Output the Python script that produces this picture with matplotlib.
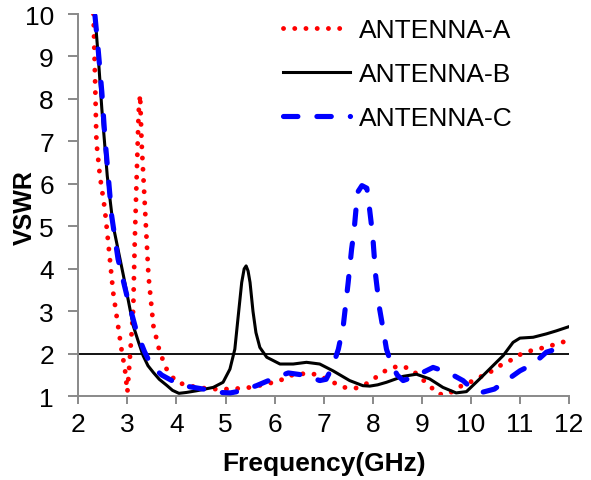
import matplotlib
matplotlib.use("Agg")
import matplotlib.pyplot as plt

plt.rcParams['font.family'] = ['Liberation Sans', 'DejaVu Sans']

# ---------------- data ----------------
freq_a = [2.31, 2.34, 2.37, 2.44, 2.54, 2.61, 2.71, 2.81, 2.88, 2.95, 3.00, 3.05,
          3.12, 3.15, 3.19, 3.23, 3.26, 3.29, 3.36, 3.43, 3.53, 3.66, 3.80, 4.00,
          4.20, 4.41, 4.75, 5.12, 5.51, 5.84, 6.11, 6.31, 6.58, 6.78, 6.98, 7.19,
          7.42, 7.65, 7.94, 8.11, 8.31, 8.55, 8.79, 8.96, 9.16, 9.33, 9.54, 9.74,
          9.98, 10.18, 10.38, 10.59, 10.83, 11.03, 11.27, 11.51, 11.74, 12.00]
vswr_a = [10.0, 8.55, 6.98, 6.19, 5.41, 4.62, 3.45, 2.66, 2.11, 1.64, 1.10, 1.88,
          3.06, 4.62, 6.19, 7.70, 8.10, 6.98, 5.41, 3.84, 2.66, 2.04, 1.64, 1.33,
          1.27, 1.21, 1.17, 1.17, 1.21, 1.29, 1.37, 1.49, 1.53, 1.53, 1.45, 1.33,
          1.21, 1.19, 1.33, 1.49, 1.64, 1.72, 1.64, 1.45, 1.25, 1.05, 1.05, 1.21,
          1.33, 1.45, 1.56, 1.72, 1.86, 2.00, 2.09, 2.15, 2.23, 2.32]

freq_b = [2.34, 2.41, 2.48, 2.59, 2.71, 2.82, 2.92, 3.02, 3.12, 3.22, 3.32, 3.42,
          3.53, 3.65, 3.80, 3.92, 4.05, 4.20, 4.41, 4.75, 4.95, 5.09, 5.19, 5.26,
          5.33, 5.38, 5.42, 5.46, 5.50, 5.56, 5.62, 5.70, 5.84, 6.11, 6.38, 6.65,
          6.92, 7.19, 7.53, 7.80, 7.94, 8.10, 8.28, 8.45, 8.62, 8.89, 9.16, 9.43,
          9.70, 9.91, 10.18, 10.45, 10.66, 10.86, 11.00, 11.27, 11.54, 11.74, 12.00]
vswr_b = [9.96, 8.94, 7.76, 6.19, 5.02, 4.40, 3.84, 3.25, 2.66, 2.30, 1.96, 1.72,
          1.56, 1.40, 1.26, 1.14, 1.07, 1.09, 1.13, 1.21, 1.33, 1.64, 2.11, 2.90,
          3.68, 4.00, 4.07, 3.95, 3.68, 3.00, 2.50, 2.15, 1.92, 1.76, 1.76, 1.80,
          1.76, 1.60, 1.37, 1.25, 1.24, 1.27, 1.33, 1.40, 1.47, 1.52, 1.41, 1.21,
          1.08, 1.11, 1.41, 1.72, 1.96, 2.27, 2.37, 2.39, 2.47, 2.54, 2.64]

freq_c = [2.34, 2.41, 2.48, 2.54, 2.61, 2.68, 2.81, 2.99, 3.19, 3.35, 3.49, 3.70,
          3.97, 4.14, 4.55, 4.89, 5.10, 5.33, 5.63, 6.04, 6.28, 6.65, 6.92, 7.05,
          7.19, 7.30, 7.40, 7.50, 7.57, 7.62, 7.69, 7.78, 7.88, 7.92, 8.00, 8.06,
          8.14, 8.20, 8.28, 8.38, 8.50, 8.62, 8.82, 9.00, 9.23, 9.54, 9.84, 10.07,
          10.25, 10.48, 10.72, 11.00, 11.27, 11.54, 11.85, 12.00]
vswr_c = [9.96, 9.10, 8.16, 7.13, 6.19, 5.25, 4.23, 3.37, 2.51, 2.05, 1.72, 1.50,
          1.33, 1.25, 1.17, 1.09, 1.08, 1.13, 1.25, 1.45, 1.55, 1.49, 1.37, 1.40,
          1.72, 2.11, 2.66, 3.68, 4.47, 4.90, 5.80, 5.96, 5.90, 5.56, 4.78, 3.84,
          3.06, 2.66, 2.11, 1.76, 1.50, 1.37, 1.45, 1.55, 1.68, 1.56, 1.37, 1.13,
          1.10, 1.17, 1.37, 1.60, 1.76, 2.04, 2.15, 2.20]

labels = ["ANTENNA-A", "ANTENNA-B", "ANTENNA-C"]
ref_level = 2
x_ticks = list(range(2, 13))
y_ticks = list(range(1, 11))

# ---------------- figure ----------------
W, H = 591, 481
fig = plt.figure(figsize=(W / 100, H / 100), dpi=100)
x0, x1, ytop, ybot = 78.3, 569.0, 15.0, 397.3
ax = fig.add_axes([x0 / W, (H - ybot) / H, (x1 - x0) / W, (ybot - ytop) / H])

ax.axhline(ref_level, color='black', lw=1.3, zorder=1)

ax.plot(freq_a, vswr_a, color='#FF0000', lw=3.5, linestyle=(0, (0.01, 2.3)),
        dash_capstyle='round', label=labels[0], zorder=2)
ax.plot(freq_b, vswr_b, color='black', lw=2.2, label=labels[1], zorder=3,
        solid_joinstyle='round')
ax.plot(freq_c, vswr_c, color='#0000FF', lw=3.7, linestyle=(0, (2.8, 3.7)),
        dash_capstyle='round', label=labels[2], zorder=4)

ax.set_xlim(2, 12)
ax.set_ylim(1, 10)
ax.set_xticks(x_ticks)
ax.set_yticks(y_ticks)

grey = '#898989'
for s in ['top', 'right']:
    ax.spines[s].set_visible(False)
for s in ['left', 'bottom']:
    ax.spines[s].set_color(grey)
    ax.spines[s].set_linewidth(1.4)

ax.tick_params(axis='x', direction='out', length=5.5, width=1.4, color=grey,
               labelsize=19, pad=6)
ax.tick_params(axis='y', direction='out', length=7, width=1.4, color=grey,
               labelsize=19, pad=10.5)

fig.text(25 / W, 1 - 208 / H, "VSWR", rotation=90, ha='center', va='center',
         fontsize=18, fontweight='bold')
fig.text((x0 + x1) / 2 / W, 1 - 471 / H, "Frequency(GHz)", ha='center',
         va='baseline', fontsize=19, fontweight='bold')

leg = ax.legend(loc='upper left', bbox_to_anchor=(283 / W, 1 - 19 / H),
                bbox_transform=fig.transFigure, frameon=False, fontsize=19,
                handlelength=2.55, handletextpad=0.34, labelspacing=0.76,
                borderpad=0, borderaxespad=0)

fig.savefig("out.png", dpi=100)
